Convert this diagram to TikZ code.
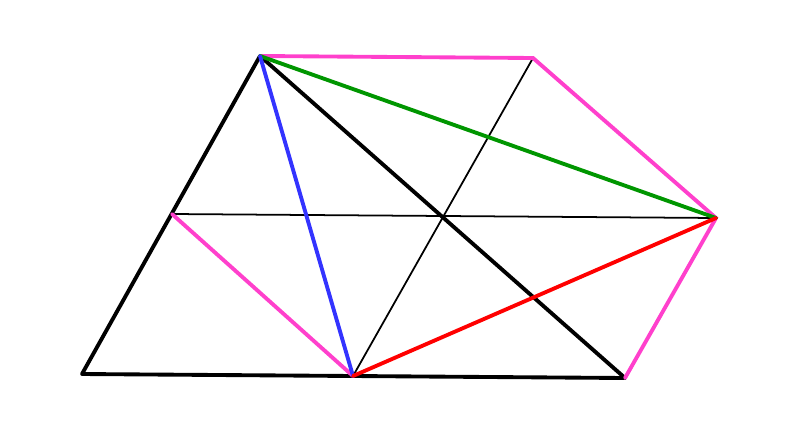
\documentclass[tikz,border=0pt]{standalone}
\usetikzlibrary{positioning}
\definecolor{edgepink}{RGB}{255,64,204}
\definecolor{edgegreen}{RGB}{0,150,0}
\definecolor{edgeblue}{RGB}{51,51,255}
\definecolor{edgered}{RGB}{255,0,0}
\tikzset{
    boldedge/.style={line width=2.2pt, black, line cap=round, line join=round},
    thinedge/.style={line width=1pt, black},
    pinkedge/.style={line width=2.2pt, edgepink, line cap=round},
    coloredge/.style={line width=2.2pt, line cap=round},
}
\begin{document}
\begin{tikzpicture}[x=0.02cm, y=-0.02cm]
                \useasboundingbox (0,0) rectangle (800,426);
                \coordinate (botleft) at (82,374);
                \coordinate (botmid) at (353,376);
                \coordinate (botright) at (625,378);
                \coordinate (topleft) at (260,56);
                \coordinate (topright) at (533,58);
                \coordinate (midleft) at (172,214);
                \coordinate (midright) at (716,218);
                % thin lines
                \draw[thinedge] (midleft) -- (midright);
                \draw[thinedge] (botmid) -- (topright);
                % outer triangle
                \draw[boldedge] (botleft) -- (topleft) -- (botright) -- cycle;
                % pink edges
                \draw[pinkedge] (topleft) -- (topright) -- (midright) -- (botright);
                \draw[pinkedge] (midleft) -- (botmid);
                % diagonals
                \draw[coloredge, edgegreen] (topleft) -- (midright);
                \draw[coloredge, edgeblue] (topleft) -- (botmid);
                \draw[coloredge, edgered] (botmid) -- (midright);
            \end{tikzpicture}
\end{document}
